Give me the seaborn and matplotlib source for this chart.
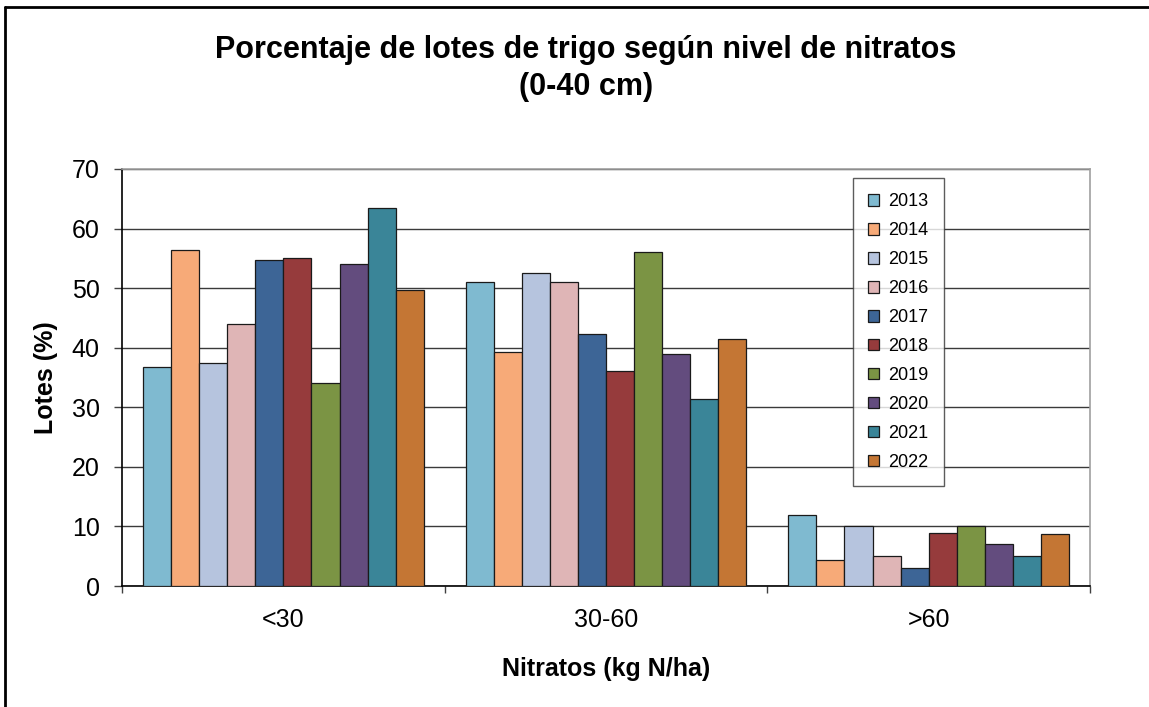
import numpy as np
import pandas as pd
import matplotlib
matplotlib.use("Agg")
import matplotlib.pyplot as plt
import seaborn as sns
from matplotlib.lines import Line2D

############################################################
# DATA
############################################################

categories = ["<30", "30-60", ">60"]
years = ["2013", "2014", "2015", "2016", "2017", "2018", "2019", "2020", "2021", "2022"]

lotes_menor30 = [36.8, 56.4, 37.4, 44.0, 54.7, 55.0, 34.0, 54.0, 63.5, 49.7]
lotes_30a60 = [51.1, 39.3, 52.6, 51.0, 42.3, 36.1, 56.0, 39.0, 31.4, 41.5]
lotes_mayor60 = [12.0, 4.3, 10.1, 5.1, 3.0, 8.9, 10.1, 7.0, 5.1, 8.8]

colors = ["#7FBAD0", "#F7AA78", "#B6C4DE", "#DFB5B6", "#3D6596",
          "#963B3C", "#7B9444", "#634C7E", "#3A8598", "#C47634"]

rows = []
for cat, vals in zip(categories, [lotes_menor30, lotes_30a60, lotes_mayor60]):
    for yr, v in zip(years, vals):
        rows.append({"Nitratos": cat, "Año": yr, "Lotes": v})
df = pd.DataFrame(rows)

############################################################
# FIGURE
############################################################

sns.set_theme(style="white")
plt.rcParams["font.family"] = ["Liberation Sans", "DejaVu Sans"]
plt.rcParams.update({
    "text.color": "black",
    "axes.labelcolor": "black",
    "xtick.color": "black",
    "ytick.color": "black",
})

fig = plt.figure(figsize=(11.49, 7.07), dpi=100)
ax = fig.add_axes([0.1062, 0.1711, 0.8425, 0.5899])

sns.barplot(
    data=df,
    x="Nitratos",
    y="Lotes",
    hue="Año",
    order=categories,
    hue_order=years,
    palette=colors,
    width=0.87,
    edgecolor="#1a1a1a",
    linewidth=0.9,
    saturation=1,
    errorbar=None,
    ax=ax,
    zorder=3,
)

ax.set_xlim(-0.5, 2.5)
ax.set_ylim(0, 70)
ax.set_yticks(np.arange(0, 71, 10))
ax.yaxis.grid(True, color="#3a3a3a", linewidth=1.0, zorder=0)
ax.set_axisbelow(True)

# group boundary ticks + centred labels
ax.set_xticks([-0.5, 0.5, 1.5, 2.5])
ax.set_xticklabels([])
ax.set_xticks([0, 1, 2], minor=True)
ax.set_xticklabels(categories, minor=True)
ax.tick_params(axis="x", which="major", direction="out", length=5, width=1, color="#404040", bottom=True)
ax.tick_params(axis="x", which="minor", length=0, pad=16, labelsize=18)
ax.tick_params(axis="y", direction="out", length=6, width=1, color="#404040", left=True, pad=10, labelsize=18)

for side in ["left", "bottom"]:
    ax.spines[side].set_color("black")
    ax.spines[side].set_linewidth(1.2)
for side in ["top", "right"]:
    ax.spines[side].set_color("#a0a0a0")
    ax.spines[side].set_linewidth(1.2)

ax.set_xlabel("Nitratos (kg N/ha)", fontsize=18, fontweight="bold", labelpad=18)
ax.set_ylabel("Lotes (%)", fontsize=18, fontweight="bold", labelpad=10)

leg = ax.legend(
    loc="upper left",
    bbox_to_anchor=(0.755, 0.978),
    borderaxespad=0,
    fontsize=13,
    frameon=True,
    fancybox=False,
    edgecolor="#333333",
    handlelength=0.6,
    handleheight=0.6,
    handletextpad=0.5,
    labelspacing=0.66,
    borderpad=0.85,
)
leg.get_frame().set_linewidth(1.0)
leg.set_title(None)

fig.text(0.510, 0.903, "Porcentaje de lotes de trigo según nivel de nitratos\n(0-40 cm)",
         ha="center", va="center", fontsize=22, fontweight="bold", linespacing=1.3)

# outer chart border (left and top)
fig.add_artist(Line2D([5 / 1149, 5 / 1149], [0, 1 - 7 / 707], transform=fig.transFigure, color="black", lw=2))
fig.add_artist(Line2D([5 / 1149, 1], [1 - 7 / 707, 1 - 7 / 707], transform=fig.transFigure, color="black", lw=2))

fig.savefig("out.png", dpi=100, facecolor="white")
